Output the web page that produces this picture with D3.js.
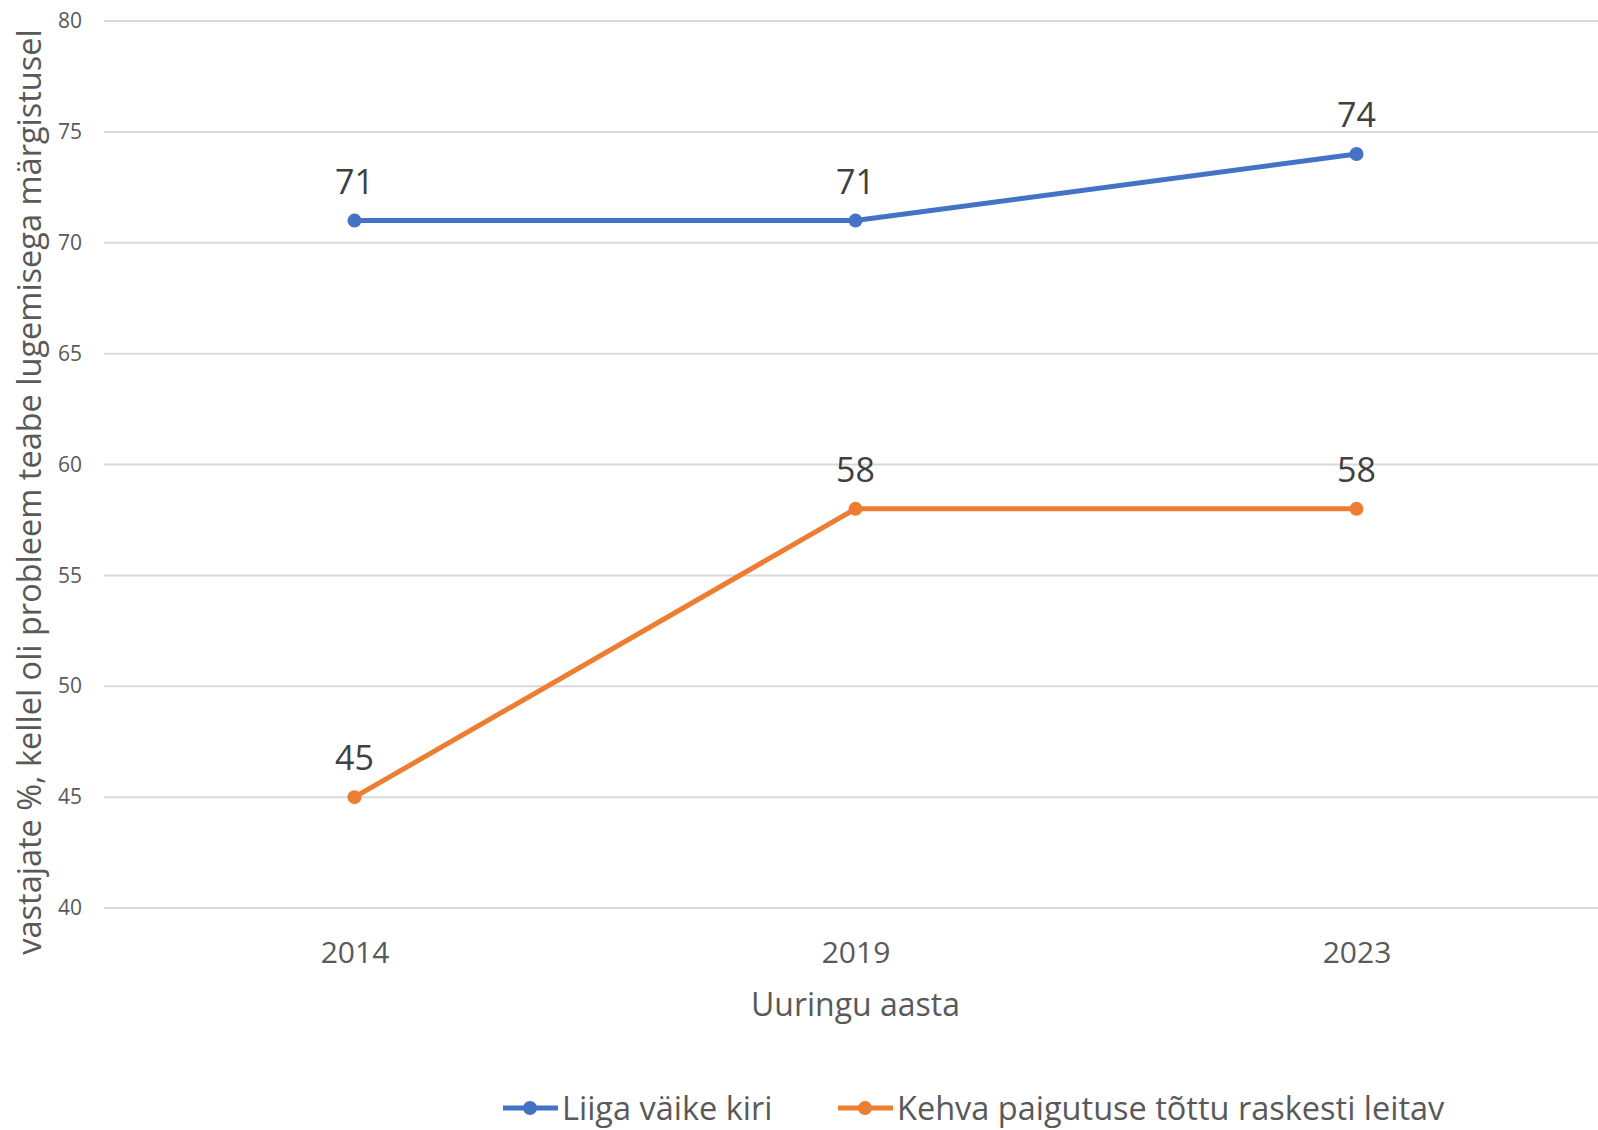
<!DOCTYPE html>
<html>
<head>
<meta charset="utf-8">
<script src="https://d3js.org/d3.v7.min.js"></script>
<style>
body { margin: 0; background: white; }
text { font-family: "Open Sans", "Noto Sans", sans-serif; }
</style>
</head>
<body>
<svg id="chart" width="1598" height="1130"></svg>
<script>
const years = ["2014", "2019", "2023"];
const smallText = [71, 71, 74];
const poorPlacement = [45, 58, 58];
const yTicks = [40, 45, 50, 55, 60, 65, 70, 75, 80];
const seriesNames = ["Liiga väike kiri", "Kehva paigutuse tõttu raskesti leitav"];
const seriesColors = ["#4472C4", "#ED7D31"];

const svg = d3.select("#chart");
const plotLeft = 104, plotRight = 1607, plotTop = 21, plotBottom = 908;

const x = d3.scalePoint().domain(years).range([plotLeft, plotRight]).padding(0.5);
const y = d3.scaleLinear().domain([40, 80]).range([plotBottom, plotTop]);

// grid lines
svg.append("g")
  .selectAll("line")
  .data(yTicks)
  .enter()
  .append("line")
  .attr("x1", plotLeft)
  .attr("x2", 1598)
  .attr("y1", d => y(d))
  .attr("y2", d => y(d))
  .attr("stroke", "#d9d9d9")
  .attr("stroke-width", 2);

// y axis
const yAxis = svg.append("g")
  .attr("transform", "translate(" + (plotLeft - 22) + ",0)")
  .call(d3.axisLeft(y).tickValues(yTicks).tickSize(0).tickPadding(0));
yAxis.select(".domain").remove();
yAxis.selectAll("text")
  .style("font-family", "Open Sans, sans-serif")
  .style("font-size", "21px")
  .attr("fill", "#595959");

// x axis
const xAxis = svg.append("g")
  .attr("transform", "translate(0," + plotBottom + ")")
  .call(d3.axisBottom(x).tickSize(0).tickPadding(34));
xAxis.select(".domain").remove();
xAxis.selectAll("text")
  .style("font-family", "Open Sans, sans-serif")
  .style("font-size", "30px")
  .attr("fill", "#595959");

// axis titles
svg.append("text")
  .attr("x", x("2019"))
  .attr("y", 1016)
  .attr("text-anchor", "middle")
  .attr("fill", "#595959")
  .style("font-size", "32px")
  .text("Uuringu aasta");

svg.append("text")
  .attr("transform", "translate(41," + 492 + ") rotate(-90)")
  .attr("text-anchor", "middle")
  .attr("fill", "#595959")
  .style("font-size", "32.5px")
  .text("vastajate %, kellel oli probleem teabe lugemisega märgistusel");

// series
const allSeries = [smallText, poorPlacement];
const line = d3.line().x((d, i) => x(years[i])).y(d => y(d));

allSeries.forEach(function(values, s) {
  const g = svg.append("g");
  g.append("path")
    .datum(values)
    .attr("d", line)
    .attr("fill", "none")
    .attr("stroke", seriesColors[s])
    .attr("stroke-width", 5)
    .attr("stroke-linejoin", "round");
  g.selectAll("circle")
    .data(values)
    .enter()
    .append("circle")
    .attr("cx", (d, i) => x(years[i]))
    .attr("cy", d => y(d))
    .attr("r", 7)
    .attr("fill", seriesColors[s]);
  g.selectAll(".lbl")
    .data(values)
    .enter()
    .append("text")
    .attr("x", (d, i) => x(years[i]))
    .attr("y", d => y(d) - 27)
    .attr("text-anchor", "middle")
    .attr("fill", "#404040")
    .style("font-size", "34px")
    .text(d => d);
});

// legend
const legendX = [503, 838];
seriesNames.forEach(function(name, s) {
  const lg = svg.append("g").attr("transform", "translate(" + legendX[s] + ",1108)");
  lg.append("line")
    .attr("x1", 0).attr("x2", 55)
    .attr("y1", 0).attr("y2", 0)
    .attr("stroke", seriesColors[s])
    .attr("stroke-width", 5);
  lg.append("circle")
    .attr("cx", 27).attr("cy", 0).attr("r", 7)
    .attr("fill", seriesColors[s]);
  lg.append("text")
    .attr("x", 59)
    .attr("y", 12)
    .attr("fill", "#595959")
    .style("font-size", "32.5px")
    .text(name);
});
</script>
</body>
</html>
